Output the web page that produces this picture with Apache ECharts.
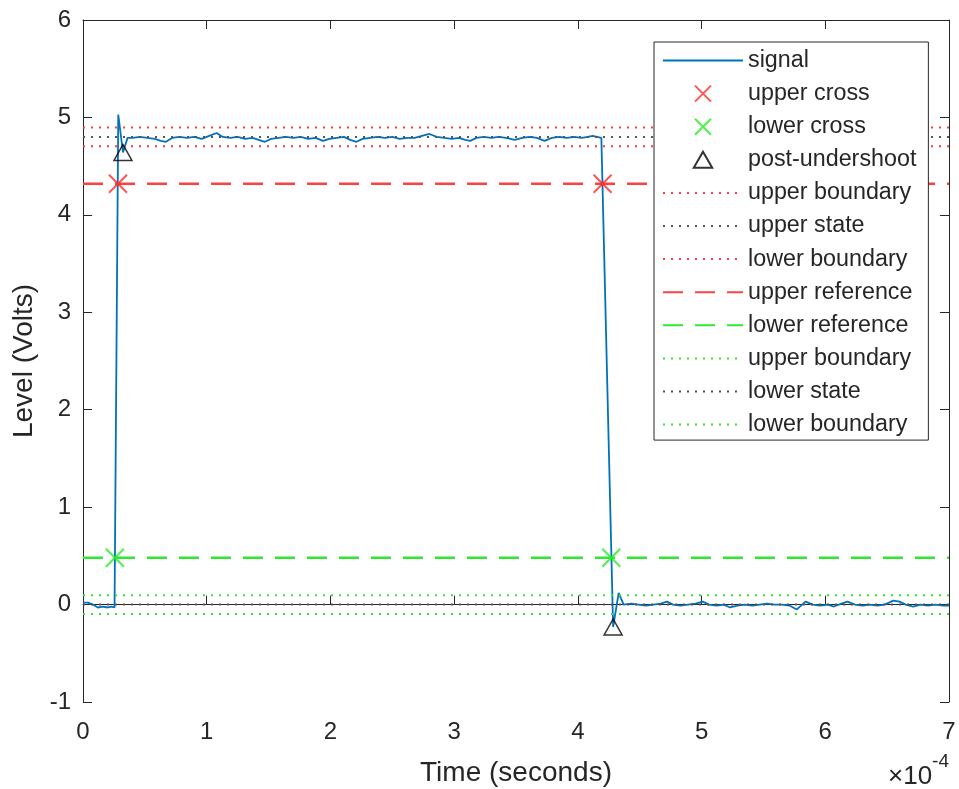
<!DOCTYPE html>
<html>
<head>
<meta charset="utf-8">
<script src="https://cdn.jsdelivr.net/npm/echarts@6/dist/echarts.min.js"></script>
<style>html,body{margin:0;padding:0;background:#fff}#chart{width:959px;height:789px}</style>
</head>
<body>
<div id="chart"></div>
<script>
// time in units of 1e-4 s
const signalTime = [0.00,0.04,0.08,0.12,0.16,0.20,0.23,0.255,0.285,0.323,0.36,
0.40,0.46,0.52,0.58,0.63,0.67,0.72,0.78,0.84,0.90,0.96,1.02,1.08,1.13,1.19,1.25,1.31,1.37,1.42,1.47,
1.52,1.58,1.64,1.70,1.76,1.82,1.88,1.94,1.99,2.05,2.11,2.16,2.21,2.26,2.32,2.38,2.44,2.50,2.56,2.62,
2.68,2.74,2.80,2.86,2.92,2.98,3.04,3.09,3.13,3.18,3.24,3.30,3.36,3.42,3.49,3.55,3.61,3.67,3.73,3.79,
3.85,3.91,3.97,4.03,4.08,4.12,4.19,4.285,4.33,4.37,
4.43,4.49,4.55,4.61,4.67,4.72,4.77,4.83,4.89,4.95,5.01,5.06,5.12,5.18,5.23,5.29,5.35,5.41,5.47,5.53,
5.59,5.65,5.71,5.77,5.84,5.90,5.96,6.02,6.07,6.13,6.18,6.24,6.30,6.36,6.42,6.48,6.55,6.60,6.65,6.71,
6.77,6.83,6.89,6.95,7.00];
const signalLevel = [0.02,0.02,0.00,-0.03,-0.02,-0.03,-0.02,-0.03,5.03,4.64,4.79,
4.79,4.80,4.79,4.78,4.76,4.75,4.79,4.80,4.79,4.80,4.78,4.81,4.84,4.80,4.79,4.80,4.78,4.79,4.77,4.75,
4.78,4.79,4.80,4.79,4.80,4.78,4.79,4.76,4.78,4.79,4.80,4.77,4.75,4.78,4.79,4.80,4.79,4.80,4.78,4.79,
4.79,4.81,4.83,4.80,4.79,4.78,4.79,4.77,4.76,4.79,4.80,4.79,4.80,4.79,4.77,4.79,4.80,4.79,4.76,4.79,
4.80,4.79,4.80,4.79,4.80,4.81,4.79,-0.23,0.12,0.00,
0.01,0.00,-0.01,0.00,0.01,0.03,0.00,-0.01,0.00,0.01,0.03,0.00,-0.01,0.00,-0.03,-0.01,0.00,-0.01,0.00,0.01,
0.00,0.00,-0.01,-0.05,0.03,0.00,-0.01,0.00,-0.02,0.01,0.03,0.00,-0.01,0.00,-0.01,0.00,0.04,0.03,0.00,-0.02,
0.00,-0.01,0.00,-0.01,-0.01];

const upperCrossTime = [0.283, 4.200];
const upperCrossLevel = [4.32, 4.32];
const lowerCrossTime = [0.258, 4.270];
const lowerCrossLevel = [0.48, 0.48];
const undershootTime = [0.323, 4.285];
const undershootLevel = [4.64, -0.23];

const timeSpan = [0, 7];
const upperState = 4.80, lowerState = 0.00;
const upperRef = 4.32, lowerRef = 0.48;
const upperHigh = 4.896, upperLow = 4.704;
const lowerHigh = 0.096, lowerLow = -0.096;

const xTicks = [0,1,2,3,4,5,6,7];
const yTicks = [-1,0,1,2,3,4,5,6];

const zip = (a, b) => a.map((v, i) => [v, b[i]]);
const hline = (v) => timeSpan.map(t => [t, v]);

const FONT = '"Liberation Sans", Arial, Helvetica, sans-serif';
const AX = '#262626';
const RED = '#ff4040', GREEN = '#30e830', GRAY = '#555555';
const XPATH = 'path://M0 0L10 10M10 0L0 10';
const TRI = 'path://M5 0L10 8.66L0 8.66Z';

const chart = echarts.init(document.getElementById('chart'), null, {renderer: 'canvas'});

function refLine(name, v, color, type, width, z) {
  return {
    name, type: 'line', data: hline(v), symbol: 'none', silent: true, z,
    lineStyle: {color, type, width}, itemStyle: {color},
    xAxisIndex: 0, yAxisIndex: 0, animation: false
  };
}

const lineNames = ['signal','upper boundary','upper state','lower boundary','upper reference',
  'lower reference','upper boundary ','lower state','lower boundary '];
const legendOrder = ['signal','upper cross','lower cross','post-undershoot','upper boundary','upper state',
  'lower boundary','upper reference','lower reference','upper boundary ','lower state','lower boundary '];

const option = {
  animation: false,
  backgroundColor: '#fff',
  textStyle: {fontFamily: FONT},
  grid: {left: 83, right: 10, top: 20, bottom: 87, containLabel: false, outerBoundsMode: 'none'},
  xAxis: [{
    type: 'value', min: xTicks[0], max: xTicks[xTicks.length-1], interval: 1,
    name: 'Time (seconds)', nameLocation: 'middle', nameGap: 57,
    nameTextStyle: {fontSize: 28, color: AX, fontFamily: FONT},
    axisLine: {show: true, lineStyle: {color: AX, width: 1}},
    axisTick: {show: true, inside: true, length: 9, lineStyle: {color: AX}},
    axisLabel: {fontSize: 24, color: AX, margin: 18, fontFamily: FONT},
    splitLine: {show: false}
  }, {
    type: 'value', position: 'top', min: 0, max: 7, interval: 1,
    axisLine: {show: true, onZero: false, lineStyle: {color: AX, width: 1}},
    axisTick: {show: true, inside: true, length: 9, lineStyle: {color: AX}},
    axisLabel: {show: false}, splitLine: {show: false}
  }],
  yAxis: [{
    type: 'value', min: yTicks[0], max: yTicks[yTicks.length-1], interval: 1,
    name: 'Level (Volts)', nameLocation: 'middle', nameGap: 42,
    nameTextStyle: {fontSize: 28, color: AX, fontFamily: FONT},
    axisLine: {show: true, onZero: false, lineStyle: {color: AX, width: 1}},
    axisTick: {show: true, inside: true, length: 9, lineStyle: {color: AX}},
    axisLabel: {fontSize: 24, color: AX, margin: 12, fontFamily: FONT},
    splitLine: {show: false}
  }, {
    type: 'value', position: 'right', min: -1, max: 6, interval: 1,
    axisLine: {show: true, onZero: false, lineStyle: {color: AX, width: 1}},
    axisTick: {show: true, inside: true, length: 9, lineStyle: {color: AX}},
    axisLabel: {show: false}, splitLine: {show: false}
  }],
  legend: {
    orient: 'vertical', left: 654, top: 42,
    backgroundColor: '#fff', borderColor: AX, borderWidth: 1,
    padding: [7, 12, 4, 8],
    itemWidth: 80, itemHeight: 16, itemGap: 10.1,
    selectedMode: false,
    textStyle: {fontSize: 23.3, color: AX, fontFamily: FONT},
    formatter: (n) => n.trim(),
    data: legendOrder.map(n => lineNames.includes(n)
      ? {name: n, itemStyle: {opacity: 0, borderWidth: 0}}
      : {name: n}),
    z: 20
  },
  series: [
    {name: 'signal', type: 'line', data: zip(signalTime, signalLevel), symbol: 'none', z: 2,
      lineStyle: {color: '#0072BD', width: 1.8}, itemStyle: {color: '#0072BD'}},
    refLine('upper boundary', upperHigh, RED, [2, 6], 2, 3),
    refLine('upper state', upperState, GRAY, [2, 6], 2, 3),
    refLine('lower boundary', upperLow, RED, [2, 6], 2, 3),
    refLine('upper reference', upperRef, RED, [20, 12], 2.5, 3),
    refLine('lower reference', lowerRef, GREEN, [20, 12], 2.5, 3),
    refLine('upper boundary ', lowerHigh, GREEN, [2, 6], 2, 3),
    refLine('lower state', lowerState, GRAY, [2, 6], 2, 3),
    refLine('lower boundary ', lowerLow, GREEN, [2, 6], 2, 3),
    {name: 'upper cross', type: 'scatter', data: zip(upperCrossTime, upperCrossLevel), z: 5,
      symbol: XPATH, symbolSize: 18,
      itemStyle: {color: '#ff2a2a', borderColor: '#ff2a2a', borderWidth: 2}},
    {name: 'lower cross', type: 'scatter', data: zip(lowerCrossTime, lowerCrossLevel), z: 5,
      symbol: XPATH, symbolSize: 18,
      itemStyle: {color: '#22ee22', borderColor: '#22ee22', borderWidth: 2}},
    {name: 'post-undershoot', type: 'scatter', data: zip(undershootTime, undershootLevel), z: 5,
      symbol: TRI, symbolSize: [18, 16],
      itemStyle: {color: 'rgba(255,255,255,0)', borderColor: '#000', borderWidth: 1.5}}
  ],
  graphic: [{
    type: 'text', right: 10, top: 752, z: 30,
    style: {
      text: '{a|×10}{b|-4}', fill: AX,
      rich: {
        a: {fontSize: 26, fontFamily: FONT, fill: AX, verticalAlign: 'bottom', padding: [12, 0, 0, 0]},
        b: {fontSize: 19, fontFamily: FONT, fill: AX, verticalAlign: 'top', padding: [0, 0, 10, 0]}
      }
    }
  }]
};
chart.setOption(option);
</script>
</body>
</html>
